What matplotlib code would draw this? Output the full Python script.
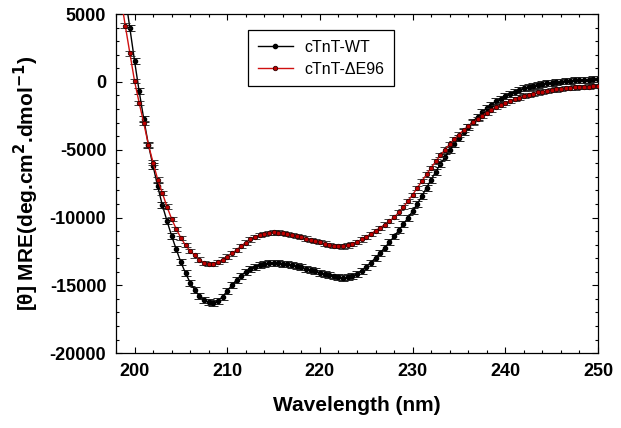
import numpy as np
import matplotlib
matplotlib.use('Agg')
import matplotlib.pyplot as plt
from matplotlib.ticker import MultipleLocator

plt.rcParams['font.family'] = ['Liberation Sans', 'DejaVu Sans']
plt.rcParams['axes.unicode_minus'] = False

# Wavelength grids (nm)
wl_wt = np.arange(199.0, 250.01, 0.5)
wl_mut = np.arange(198.5, 250.01, 0.5)

# MRE values
mre_wt = [6300, 3950, 1550, -700, -2750, -4650, -6200, -7700, -9100, -10250,
          -11350, -12350, -13300, -14100, -14800, -15350, -15800, -16100, -16250, -16300,
          -16150, -15850, -15400, -15000, -14600, -14300, -14000, -13780, -13620, -13500,
          -13420, -13370, -13350, -13360, -13400, -13450, -13520, -13600, -13680, -13780,
          -13880, -13980, -14080, -14180, -14270, -14350, -14420, -14450, -14420, -14320,
          -14150, -13920, -13640, -13320, -12970, -12600, -12220, -11820, -11400, -10950,
          -10500, -10020, -9530, -9000, -8420, -7800, -7200, -6620, -6050, -5550,
          -5050, -4580, -4130, -3700, -3300, -2920, -2570, -2250, -1950, -1680,
          -1440, -1230, -1040, -870, -720, -590, -470, -370, -280, -210,
          -150, -100, -50, -10, 30, 60, 90, 120, 140, 160,
          175, 190, 200]

mre_mut = [6300, 4150, 2100, 60, -1550, -3050, -4650, -5950, -7200, -8200,
           -9200, -10100, -10850, -11500, -12050, -12450, -12800, -13100, -13350, -13450,
           -13420, -13280, -13100, -12880, -12650, -12400, -12100, -11850, -11620, -11450,
           -11300, -11200, -11130, -11100, -11110, -11150, -11220, -11300, -11380, -11460,
           -11550, -11640, -11730, -11820, -11920, -12010, -12080, -12120, -12130, -12060,
           -11950, -11800, -11620, -11420, -11200, -10980, -10750, -10520, -10270, -9980,
           -9630, -9230, -8790, -8320, -7820, -7320, -6820, -6330, -5860, -5410,
           -4990, -4590, -4220, -3880, -3560, -3270, -2990, -2730, -2490, -2270,
           -2060, -1870, -1700, -1550, -1410, -1280, -1160, -1050, -950, -860,
           -780, -710, -650, -600, -550, -510, -470, -440, -410, -380,
           -360, -340, -320, -300]

err_wt = 220
err_mut = 160

fig = plt.figure(figsize=(6.21, 4.28), dpi=100)
ax = fig.add_axes([0.1868, 0.175, 0.7762, 0.792])

eb1 = ax.errorbar(wl_wt, mre_wt, yerr=err_wt, fmt='-o', color='black', ms=3,
                  mfc='black', mec='black', lw=1, ecolor='#222222', elinewidth=0.7,
                  capsize=3.8, capthick=0.7, zorder=3)
eb2 = ax.errorbar(wl_mut, mre_mut, yerr=err_mut, fmt='-o', color='#d01010', ms=3.2,
                  mfc='#c00000', mec='#300000', mew=0.6, lw=1, ecolor='#222222',
                  elinewidth=0.7, capsize=3.8, capthick=0.7, zorder=4)

ax.set_xlim(198, 250)
ax.set_ylim(-20000, 5000)
ax.xaxis.set_major_locator(MultipleLocator(10))
ax.xaxis.set_minor_locator(MultipleLocator(2))
ax.yaxis.set_major_locator(MultipleLocator(5000))
ax.yaxis.set_minor_locator(MultipleLocator(1000))
ax.tick_params(which='both', direction='in', top=True, right=True, width=0.8)
ax.tick_params(which='major', length=4, labelsize=13, pad=7)
ax.tick_params(which='minor', length=2.5)
for lab in ax.get_xticklabels() + ax.get_yticklabels():
    lab.set_fontweight('bold')
for s in ax.spines.values():
    s.set_linewidth(0.9)

ax.set_xlabel('Wavelength (nm)', fontsize=15, fontweight='bold', labelpad=12)
ax.set_ylabel('[\u03b8] MRE(deg.cm$^\\mathbf{2}$.dmol$^\\mathbf{-1}$)',
              fontsize=15, fontweight='bold', labelpad=6)

leg = ax.legend([eb1[0], eb2[0]], ['cTnT-WT', 'cTnT-\u0394E96'],
                loc='upper left', bbox_to_anchor=(0.274, 0.953), borderaxespad=0,
                fontsize=11.5, fancybox=False, edgecolor='black', framealpha=1,
                handlelength=2.2, handletextpad=0.7, borderpad=0.6,
                labelspacing=0.45)
leg.get_frame().set_linewidth(0.9)

fig.savefig('out.png', dpi=100)
